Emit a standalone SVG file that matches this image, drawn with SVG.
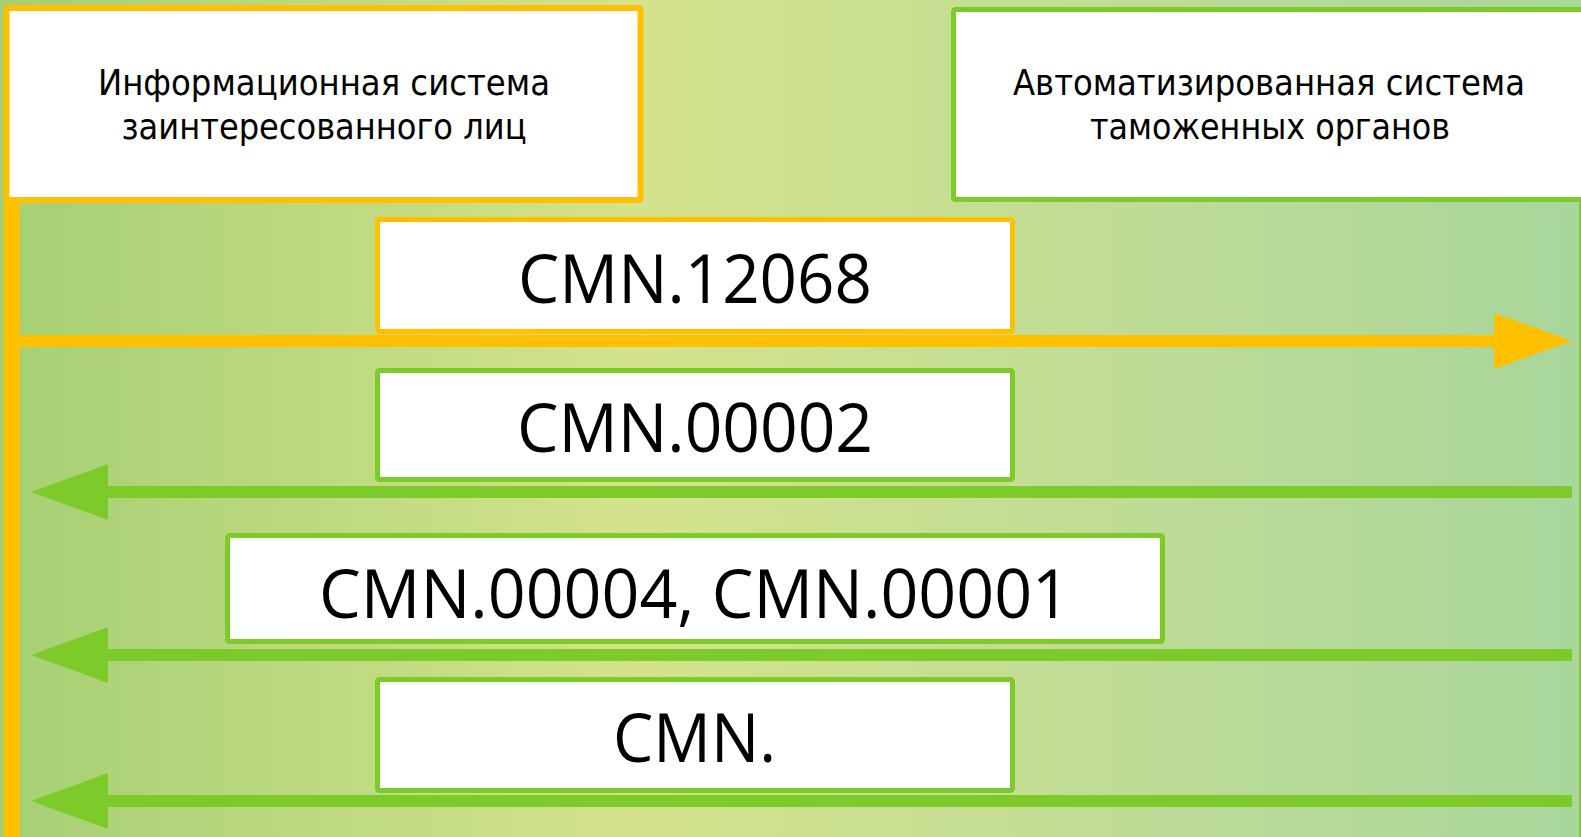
<svg xmlns="http://www.w3.org/2000/svg" width="1581" height="837" viewBox="0 0 1581 837">
  <defs>
    <linearGradient id="bg" x1="0" y1="0" x2="1" y2="0">
      <stop offset="0" stop-color="#A6CF74"/>
      <stop offset="0.4" stop-color="#D4E38B"/>
      <stop offset="0.7" stop-color="#C0DC96"/>
      <stop offset="1" stop-color="#A8D69B"/>
    </linearGradient>
    <style>
      .hdr { font-family: "DejaVu Sans Condensed", "DejaVu Sans", sans-serif; font-stretch: condensed; font-size: 36px; fill: #000; text-anchor: middle; }
      .msg { font-family: "Open Sans", "Liberation Sans", sans-serif; font-size: 67px; fill: #000; text-anchor: middle; }
      .box { fill: #FFFFFF; stroke-width: 5; }
      .or { stroke: #FFC000; }
      .gr { stroke: #7DCB2A; }
      .lineO { stroke: #FFC000; stroke-width: 12; fill: none; }
      .lineG { stroke: #7DCB2A; stroke-width: 12; fill: none; }
      .headO { fill: #FFC000; }
      .headG { fill: #7DCB2A; }
    </style>
  </defs>
  <rect x="0" y="0" width="1581" height="837" fill="url(#bg)"/>

  <!-- lifelines -->
  <g id="lifelines">
    <rect x="4" y="200" width="16" height="637" fill="#FFC000"/>
    <rect x="1579" y="200" width="10" height="637" fill="#7DCB2A"/>
  </g>

  <g id="node-left">
    <rect class="box or" x="6.5" y="8" width="634" height="192" rx="2" style="stroke-width:6"/>
    <text class="hdr" x="324" y="95" textLength="452" lengthAdjust="spacingAndGlyphs">Информационная система</text>
    <text class="hdr" x="324" y="139" textLength="405" lengthAdjust="spacingAndGlyphs">заинтересованного лиц</text>
  </g>

  <g id="node-right">
    <rect class="box gr" x="953.5" y="9.5" width="640" height="190" rx="2"/>
    <text class="hdr" x="1269" y="95" textLength="512" lengthAdjust="spacingAndGlyphs">Автоматизированная система</text>
    <text class="hdr" x="1270" y="139" textLength="360" lengthAdjust="spacingAndGlyphs">таможенных органов</text>
  </g>

  <g id="connectors">
    <line class="lineO" x1="18" y1="341" x2="1500" y2="341"/>
    <polygon class="headO" points="1494,313 1572,341 1494,369"/>
    <line class="lineG" x1="100" y1="492" x2="1572" y2="492"/>
    <polygon class="headG" points="108,464 31,492 108,520"/>
    <line class="lineG" x1="100" y1="655" x2="1572" y2="655"/>
    <polygon class="headG" points="108,627 31,655 108,683"/>
    <line class="lineG" x1="100" y1="801" x2="1572" y2="801"/>
    <polygon class="headG" points="108,773 31,801 108,829"/>
  </g>

  <g id="msg1">
    <rect class="box or" x="377.5" y="219.5" width="635" height="112" rx="2"/>
    <text class="msg" x="695" y="303" textLength="354" lengthAdjust="spacingAndGlyphs">CMN.12068</text>
  </g>

  <g id="msg2">
    <rect class="box gr" x="377.5" y="370.5" width="635" height="109" rx="2"/>
    <text class="msg" x="695" y="452" textLength="356" lengthAdjust="spacingAndGlyphs">CMN.00002</text>
  </g>

  <g id="msg3">
    <rect class="box gr" x="227.5" y="535.5" width="935" height="106" rx="2"/>
    <text class="msg" x="694.5" y="618" textLength="751" lengthAdjust="spacingAndGlyphs">CMN.00004, CMN.00001</text>
  </g>

  <g id="msg4">
    <rect class="box gr" x="377.5" y="679.5" width="635" height="111" rx="2"/>
    <text class="msg" x="694.5" y="762" textLength="163" lengthAdjust="spacingAndGlyphs">CMN.</text>
  </g>
</svg>
